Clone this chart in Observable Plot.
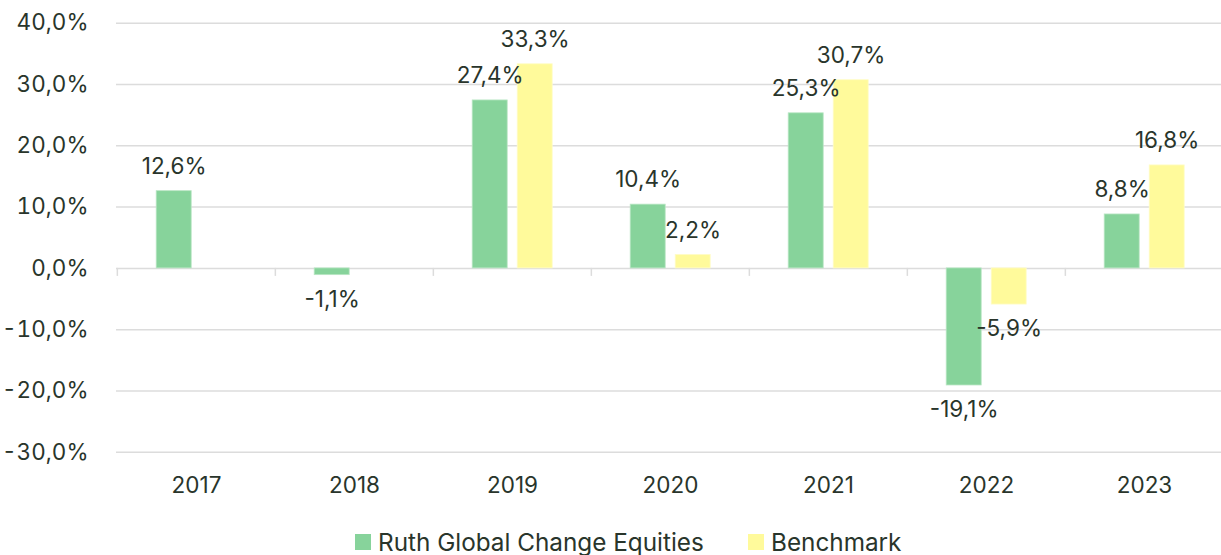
<!DOCTYPE html>
<html>
<head>
<meta charset="utf-8">
<script src="https://cdn.jsdelivr.net/npm/d3@7"></script>
<script src="https://cdn.jsdelivr.net/npm/@observablehq/plot@0.6"></script>
<style>
  html, body { margin: 0; padding: 0; background: #ffffff; overflow: hidden; }
  #chart svg { display: block; }
  #legend { position: relative; height: 35px; font-family: Inter, "Liberation Sans", Arial, sans-serif; font-size: 24.3px; color: #29352b; }
  .item { position: absolute; top: 11px; display: flex; align-items: center; white-space: nowrap; line-height: 22px; height: 22px; }
  .swatch { width: 16px; height: 16px; margin-right: 7px; }
</style>
</head>
<body>
<div id="chart"></div>
<div id="legend"></div>
<script>
const years = ["2017", "2018", "2019", "2020", "2021", "2022", "2023"];
const fundReturns = [12.6, -1.1, 27.4, 10.4, 25.3, -19.1, 8.8];
const benchmarkReturns = [null, null, 33.3, 2.2, 30.7, -5.9, 16.8];
const yTicks = [-30, -20, -10, 0, 10, 20, 30, 40];
const seriesNames = ["Ruth Global Change Equities", "Benchmark"];
const seriesColors = ["#87d39b", "#fffa9b"];

const data = years.flatMap((year, i) => [
  {year, series: seriesNames[0], value: fundReturns[i]},
  {year, series: seriesNames[1], value: benchmarkReturns[i]}
]).filter(d => d.value != null);

const fmt = v => v.toFixed(1).replace(".", ",") + "%";
const textColor = "#29352b";
const gridColor = "#dcdcdc";
const fs = 22.5;

const fund = data.filter(d => d.series === seriesNames[0]);
const bench = data.filter(d => d.series === seriesNames[1]);

const labelMarks = (rows, dx) => [
  Plot.text(rows.filter(d => d.value >= 0), {x: "year", y: "value", text: d => fmt(d.value), dx, dy: -24.5, fill: textColor, fontSize: fs}),
  Plot.text(rows.filter(d => d.value < 0), {x: "year", y: "value", text: d => fmt(d.value), dx, dy: 24.5, fill: textColor, fontSize: fs})
];

const chart = Plot.plot({
  width: 1221,
  height: 520,
  marginLeft: 116,
  marginRight: 0,
  marginTop: 22.7,
  marginBottom: 68.2,
  style: {fontFamily: "Inter, 'Liberation Sans', Arial, sans-serif", fontSize: fs + "px", color: textColor, background: "#ffffff"},
  x: {domain: years, range: [116, 1224.3], padding: 0, label: null},
  y: {domain: [-30, 40], label: null},
  color: {domain: seriesNames, range: seriesColors},
  marks: [
    Plot.ruleY(yTicks, {stroke: gridColor, strokeWidth: 1.5}),
    Plot.ruleX(years, {x: d => d, y1: 0, y2: 0, dx: -79.15, insetBottom: -8, stroke: gridColor, strokeWidth: 1.5}),
    Plot.barY(fund, {x: "year", y: "value", fill: "series", insetLeft: 39.2, insetRight: 83.8, stroke: "#b9e6c4", strokeWidth: 0.8}),
    Plot.barY(bench, {x: "year", y: "value", fill: "series", insetLeft: 84.2, insetRight: 38.8, stroke: "#fffcc8", strokeWidth: 0.8}),
    ...labelMarks(fund, -22.35),
    ...labelMarks(bench, 22.6),
    Plot.axisY({ticks: yTicks, tickFormat: fmt, tickSize: 0, tickPadding: 28, fontSize: fs, fill: textColor, label: null}),
    Plot.axisX({tickSize: 0, tickPadding: 25, fontSize: fs, fill: textColor, label: null})
  ]
});
document.getElementById("chart").appendChild(chart);

const legend = document.getElementById("legend");
const legendX = [355, 748];
seriesNames.forEach((name, i) => {
  const item = document.createElement("div");
  item.className = "item";
  item.style.left = legendX[i] + "px";
  const sw = document.createElement("span");
  sw.className = "swatch";
  sw.style.background = seriesColors[i];
  const label = document.createElement("span");
  label.textContent = name;
  item.appendChild(sw);
  item.appendChild(label);
  legend.appendChild(item);
});
</script>
</body>
</html>
